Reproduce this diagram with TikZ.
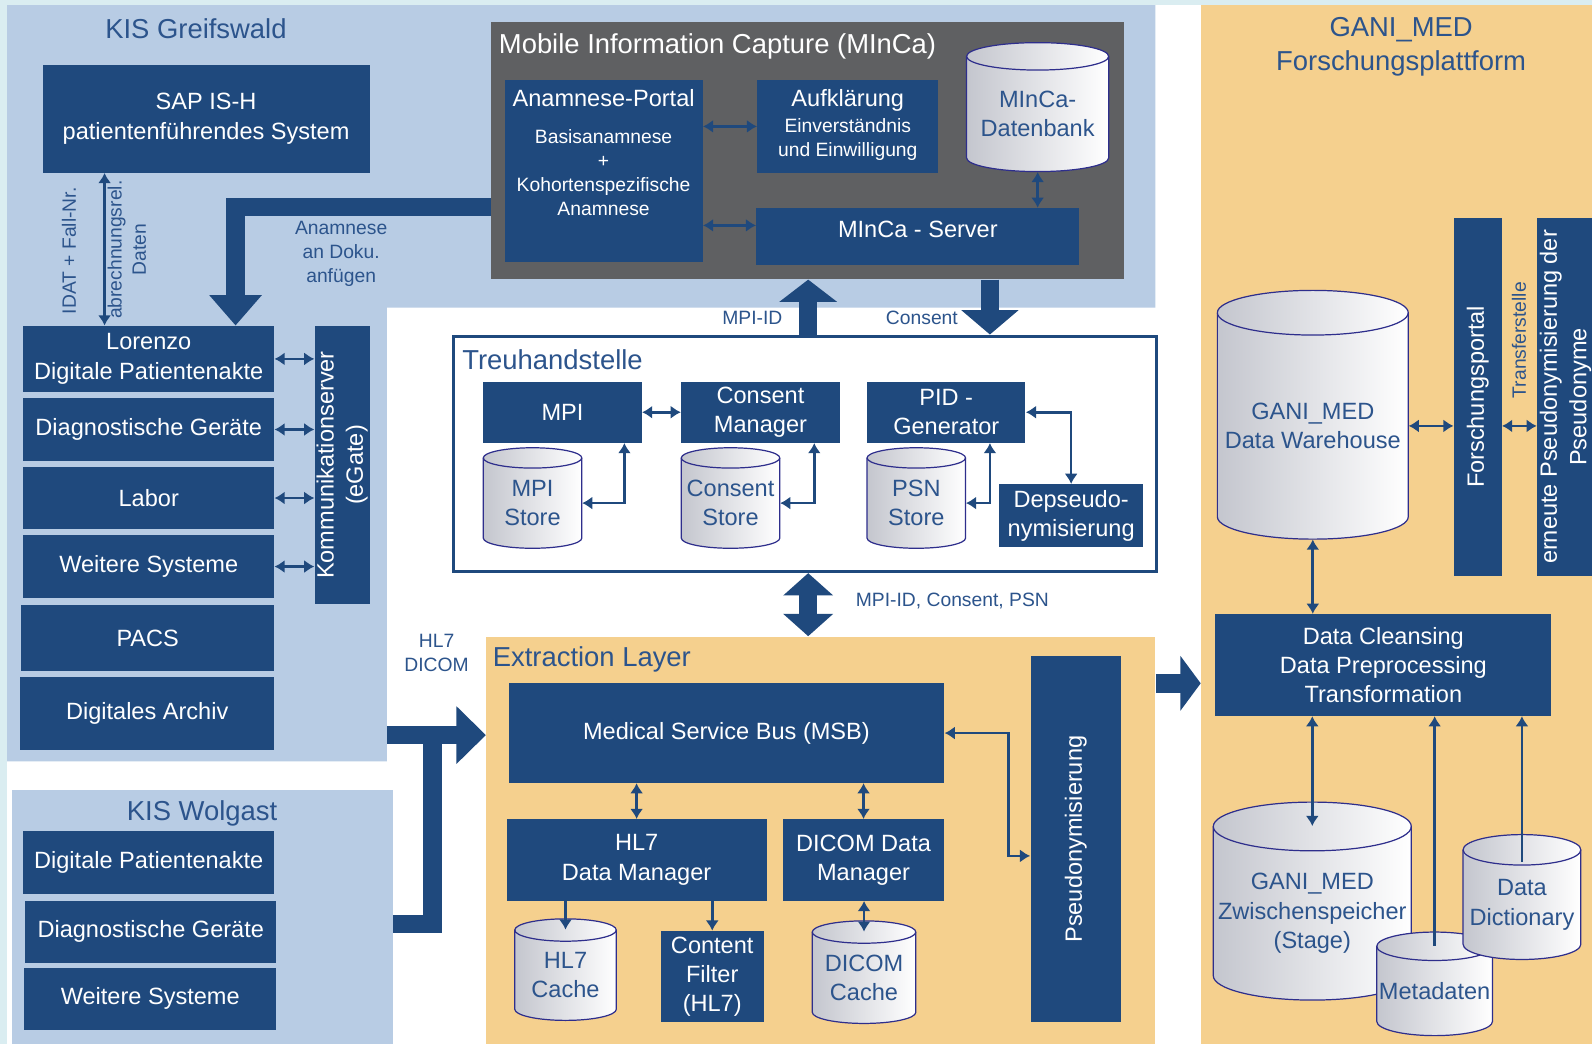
\documentclass[tikz,border=0pt]{standalone}
\usepackage{fontspec}
\setmainfont{Liberation Sans}
\usepackage{tikz}
\usetikzlibrary{arrows.meta, positioning}

\definecolor{boxblue}{RGB}{31,73,125}
\definecolor{panelblue}{RGB}{184,204,228}
\definecolor{panelorange}{RGB}{245,208,142}
\definecolor{mincagray}{RGB}{95,96,98}
\definecolor{labelblue}{RGB}{44,84,140}
\definecolor{cylgray}{RGB}{196,198,206}
\definecolor{cyledge}{RGB}{46,46,140}
\definecolor{rim}{RGB}{218,237,241}

\newcommand{\subtxt}{\fontsize{9.5}{11.8}\selectfont}
% database drum: name, x, y, width, height, ellipse radius (all in px), text
\newcommand{\dbcyl}[7]{%
  \path[cylshade] ({#2-#4/2},{#3-#5/2+#6}) -- ({#2-#4/2},{#3+#5/2-#6})
    arc[start angle=180, end angle=360, x radius={#4*0.25pt}, y radius={#6*0.5pt}]
    -- ({#2+#4/2},{#3-#5/2+#6})
    arc[start angle=0, end angle=180, x radius={#4*0.25pt}, y radius={#6*0.5pt}] -- cycle;
  \draw[draw=cyledge, line width=0.6pt] ({#2-#4/2},{#3-#5/2+#6})
    arc[start angle=180, end angle=360, x radius={#4*0.25pt}, y radius={#6*0.5pt}];
  \node[dbtxt, minimum width={#4*0.5pt}, minimum height={(#5-#6)*0.5pt}] (#1) at (#2,{#3+#6/2}) {#7};
}

\tikzset{
  blk/.style={fill=boxblue, text=white, inner sep=0pt, align=center, font=\fontsize{11.6}{14.5}\selectfont},
  cylshade/.style={left color=cylgray, right color=white, draw=cyledge, line width=0.6pt},
  dbtxt/.style={text=labelblue, align=center, inner sep=0pt, font=\fontsize{11.6}{14.5}\selectfont},
  ttl/.style={text=labelblue, font=\fontsize{13.5}{16.5}\selectfont, align=center, inner sep=0pt},
  lbl/.style={text=labelblue, font=\fontsize{9.5}{11.8}\selectfont, align=center, inner sep=0pt},
  dbl/.style={draw=boxblue, line width=1.3pt, {Latex[length=5pt,width=6.5pt]}-{Latex[length=5pt,width=6.5pt]}},
  sgl/.style={draw=boxblue, line width=1.3pt, -{Latex[length=5pt,width=6.5pt]}},
  fat/.style={draw=boxblue, line width=9pt, line join=miter},
}

\begin{document}
\begin{tikzpicture}[x=0.5pt, y=-0.5pt]
\clip (0,0) rectangle (1568,1028);
\fill[rim] (0,0) rectangle (1568,1028);
\fill[white] (7,5) rectangle (1568,1028);

% panels
\fill[panelblue] (7,5) -- (1138,5) -- (1138,303) -- (381,303) -- (381,750) -- (7,750) -- cycle;
\node[fill=panelblue, inner sep=0pt, minimum width=187.5pt, minimum height=125pt] (wolgast) at (199.5,903) {};
\node[fill=panelorange, inner sep=0pt, minimum width=192.5pt, minimum height=511.5pt] (gani) at (1375.5,516.5) {};
\node[fill=panelorange, inner sep=0pt, minimum width=329.5pt, minimum height=200.5pt] (extract) at (808.5,827.5) {};
\node[fill=mincagray, inner sep=0pt, minimum width=311.5pt, minimum height=126.5pt] (minca) at (795.5,148.5) {};
\node[draw=boxblue, line width=1.5pt, fill=white, inner sep=0pt, minimum width=346pt, minimum height=116pt] (treuhand) at (793,447) {};

% titles
\node[ttl] (tgreifs) at (193,28) {KIS Greifswald};
\node[ttl] (twolgast) at (199,801) {KIS Wolgast};
\node[ttl] (tgani) at (1380,46) {GANI\_MED\\Forschungsplattform};
\node[ttl, text=white, anchor=west] (tminca) at (491,46) {Mobile Information Capture (MInCa)};
\node[ttl, anchor=west] (ttreu) at (455,354) {Treuhandstelle};
\node[ttl, anchor=west] (textract) at (485,649) {Extraction Layer};

% KIS Greifswald
\node[blk, minimum width=161pt, minimum height=53pt] (sap) at (203,117) {SAP IS-H\\patientenführendes System};
\node[blk, minimum width=123.5pt, minimum height=32.5pt] (lorenzo) at (146.5,353.5) {Lorenzo\\Digitale Patientenakte};
\node[blk, minimum width=123.5pt, minimum height=31pt] (diag) at (146.5,423) {Diagnostische Geräte};
\node[blk, minimum width=123.5pt, minimum height=30.5pt] (labor) at (146.5,490.5) {Labor};
\node[blk, minimum width=123.5pt, minimum height=31pt] (weitere) at (146.5,558) {Weitere Systeme};
\node[blk, minimum width=124.5pt, minimum height=32.5pt] (pacs) at (145.5,628.5) {PACS};
\node[blk, minimum width=125pt, minimum height=36pt] (archiv) at (145,703) {Digitales Archiv};
\node[blk, rotate=90, minimum width=137pt, minimum height=27pt] (komm) at (337,458) {Kommunikationserver\\(eGate)};

\node[lbl, rotate=90] (lidat) at (68,247) {IDAT + Fall-Nr.};
\node[lbl, rotate=90, font=\fontsize{9.5}{12}\selectfont] (labr) at (125,246) {abrechnungsrel.\\Daten};
\node[lbl] (lanam) at (336,250) {Anamnese\\an Doku.\\anfügen};

\draw[dbl] (sap.south -| 103,0) -- (lorenzo.north -| 103,0);
\foreach \sys in {lorenzo, diag, labor, weitere}
  \draw[dbl] (\sys.east) -- (\sys.east -| komm.north);

% KIS Wolgast
\node[blk, minimum width=123.5pt, minimum height=31.5pt] (wdigi) at (146.5,849.5) {Digitale Patientenakte};
\node[blk, minimum width=123.5pt, minimum height=30.5pt] (wdiag) at (148.5,917.5) {Diagnostische Geräte};
\node[blk, minimum width=124pt, minimum height=30.5pt] (wweitere) at (148,983.5) {Weitere Systeme};

% MInCa
\node[blk, minimum width=97.5pt, minimum height=89.5pt] (anport) at (594.5,168.5)
  {Anamnese-Portal\\[3.5pt]\subtxt\begin{tabular}[t]{@{}c@{}}Basisanamnese\\+\\Kohortenspezifische\\Anamnese\\[15pt]\end{tabular}};
\node[blk, minimum width=89pt, minimum height=45.5pt] (aufkl) at (835,124.5)
  {Aufklärung\\[-1.5pt]\subtxt\begin{tabular}[t]{@{}c@{}}Einverständnis\\und Einwilligung\end{tabular}};
\dbcyl{mdb}{1022}{105.5}{140}{127}{13.5}{MInCa-\\Datenbank}
\node[blk, minimum width=159pt, minimum height=28pt] (server) at (904,233) {MInCa - Server\\[-7pt]\mbox{}};

\draw[dbl] (anport.east |- aufkl.west) -- (aufkl.west);
\draw[dbl] ([yshift=5.5pt]anport.east |- server.west) -- ([yshift=5.5pt]server.west);
\draw[dbl] (mdb.south) -- (mdb.south |- server.north);

% Treuhandstelle
\node[blk, minimum width=78pt, minimum height=30pt] (mpi) at (554,406) {MPI};
\node[blk, minimum width=78pt, minimum height=30pt] (cman) at (749,406) {Consent\\Manager};
\node[blk, minimum width=78pt, minimum height=30pt] (pid) at (932,406) {PID -\\Generator};
\dbcyl{mpistore}{524.5}{490.5}{97}{99}{10}{MPI\\Store}
\dbcyl{cstore}{719.5}{490.5}{97}{99}{10}{Consent\\Store}
\dbcyl{psnstore}{902.5}{490.5}{97}{99}{10}{PSN\\Store}
\node[blk, minimum width=71pt, minimum height=31pt] (depseudo) at (1055,508) {Depseudo-\\nymisierung};

\draw[dbl] (mpi.east) -- (cman.west);
\draw[dbl] (mpistore.east) -| ([xshift=30.5pt]mpi.south);
\draw[dbl] (cstore.east) -| ([xshift=26.5pt]cman.south);
\draw[dbl] (psnstore.east) -| ([xshift=21.5pt]pid.south);
\draw[dbl] (pid.east) -| (depseudo.north);

% Extraction Layer
\node[blk, minimum width=214.5pt, minimum height=49pt] (msb) at (715.5,722) {Medical Service Bus (MSB)};
\node[blk, rotate=90, minimum width=180.5pt, minimum height=44.5pt] (pseudo) at (1059.5,826.5) {Pseudonymisierung};
\node[blk, minimum width=128pt, minimum height=40pt] (hl7dm) at (627,847) {HL7\\Data Manager};
\node[blk, minimum width=79.5pt, minimum height=40pt] (dicomdm) at (850.5,847) {DICOM Data\\Manager};
\dbcyl{hl7cache}{557}{955}{100}{100}{11}{HL7\\Cache}
\node[blk, minimum width=50.5pt, minimum height=45pt] (cfilter) at (701.5,962) {Content\\Filter\\(HL7)};
\dbcyl{dicomcache}{851}{957.5}{102}{101}{11}{DICOM\\Cache}

\draw[dbl] (msb.east) -| (993,843) -- (pseudo.north |- 0,843);
\draw[dbl] (hl7dm.north) -- (hl7dm.north |- msb.south);
\draw[dbl] (dicomdm.north) -- (dicomdm.north |- msb.south);
\draw[sgl] (hl7cache.north |- hl7dm.south) -- (hl7cache.north);
\draw[sgl] (cfilter.north |- hl7dm.south) -- (cfilter.north);
\draw[dbl] (dicomcache.north |- dicomdm.south) -- (dicomcache.north);

% GANI_MED
\dbcyl{dwh}{1293}{408.5}{188}{245}{22}{GANI\_MED\\Data Warehouse}
\node[blk, rotate=90, minimum width=176pt, minimum height=23.5pt] (portal) at (1455.5,391) {Forschungsportal};
\node[blk, rotate=90, minimum width=176pt, minimum height=28pt] (erneut) at (1542,391) {erneute Pseudonymisierung der\\Pseudonyme};
\node[lbl, rotate=90] (ltransfer) at (1496,335) {Transferstelle};
\node[blk, minimum width=165.5pt, minimum height=50pt] (clean) at (1362.5,655) {Data Cleansing\\Data Preprocessing\\Transformation};
\dbcyl{stage}{1292.5}{887.5}{195}{195}{24}{GANI\_MED\\Zwischenspeicher\\(Stage)}
\dbcyl{meta}{1413}{969}{114}{102}{14}{Metadaten}
\dbcyl{dd}{1499}{883.5}{116}{123}{15}{Data\\Dictionary}

\draw[dbl] (dwh.east) -- (dwh.east -| portal.north);
\draw[dbl] (portal.south |- dwh.east) -- (erneut.north |- dwh.east);
\draw[dbl] (dwh.south) -- (dwh.south |- clean.north);
\draw[dbl] (stage.north |- clean.south) -- (stage.north);
\draw[sgl] (meta.north) -- (meta.north |- clean.south);
\draw[sgl] ([yshift=-6pt]dd.north) -- (dd.north |- clean.south);

% broad arrows
\node[lbl] (lmpiid) at (741,313) {MPI-ID};
\node[lbl] (lconsent) at (908,313) {Consent};
\node[lbl] (lids) at (938,592) {MPI-ID, Consent, PSN};
\node[lbl] (lhl7) at (430,643) {HL7\\DICOM};
\coordinate (kisout) at (381,724);

\draw[fat, -{Triangle[width=25pt,length=15pt]}] (minca.west |- 0,204) -| (232,0 |- lorenzo.north);
\draw[fat, -{Triangle[width=28pt,length=11pt]}] (796,0 |- treuhand.north) -- (796,0 |- minca.south);
\draw[fat, -{Triangle[width=27.5pt,length=12pt]}] (975,0 |- minca.south) -- (975,0 |- treuhand.north);
\draw[fat, {Triangle[width=24pt,length=11pt]}-{Triangle[width=24pt,length=11pt]}] (796,0 |- treuhand.south) -- (796,0 |- extract.north);
\draw[fat, -{Triangle[width=27.5pt,length=14.5pt]}] (kisout) -- (extract.west |- kisout);
\draw[fat] (wolgast.east |- 0,910) -| (426,0 |- kisout);
\draw[fat, line width=9.5pt, -{Triangle[width=26.5pt,length=10pt]}] (extract.east |- 0,673) -- (gani.west |- 0,673);
\end{tikzpicture}
\end{document}
